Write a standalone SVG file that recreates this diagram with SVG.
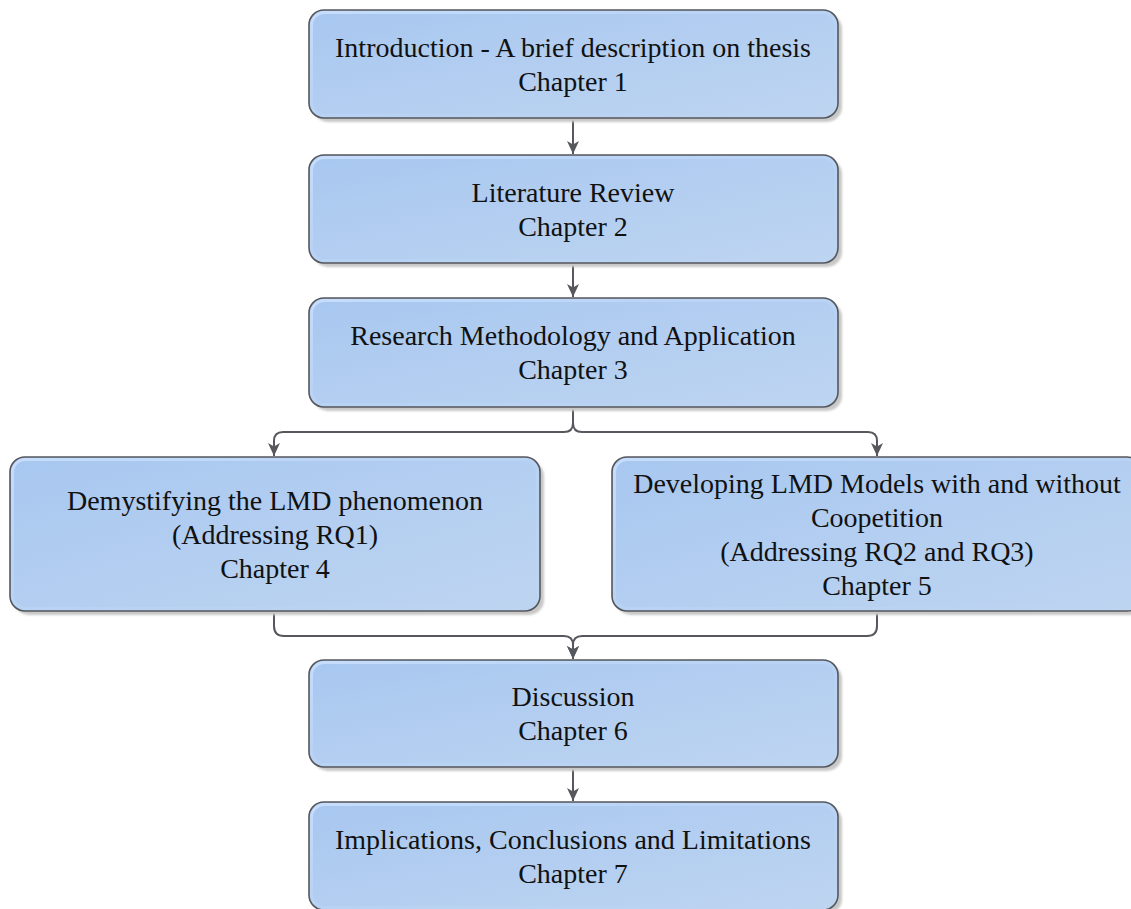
<svg xmlns="http://www.w3.org/2000/svg" width="1131" height="909" viewBox="0 0 1131 909">
  <style>
    .shadow { fill: #c8c8c8; filter: url(#soft); }
    .box { fill: url(#boxFill); stroke: #55575c; stroke-width: 1.6; }
    .hl { fill: none; stroke: url(#hlStroke); stroke-width: 3; }
    .lbl { font-family: "Liberation Serif", "Times New Roman", serif; font-size: 28px; fill: #111; text-anchor: middle; }
    .conn { fill: none; stroke: #56585e; stroke-width: 2; }
  </style>
  <defs>
    <linearGradient id="boxFill" x1="0" y1="0" x2="1" y2="1">
      <stop offset="0" stop-color="#a8c7f0"/>
      <stop offset="1" stop-color="#bed5f1"/>
    </linearGradient>
    <linearGradient id="hlStroke" x1="0" y1="0" x2="1" y2="1">
      <stop offset="0" stop-color="#c6ddfc"/>
      <stop offset="0.5" stop-color="#c6ddfc" stop-opacity="0.3"/>
      <stop offset="1" stop-color="#c6ddfc" stop-opacity="0"/>
    </linearGradient>
    <filter id="soft" x="-5%" y="-5%" width="110%" height="110%">
      <feGaussianBlur stdDeviation="1.2"/>
    </filter>
    <marker id="arrow" markerUnits="userSpaceOnUse" markerWidth="14" markerHeight="14" viewBox="0 0 14 14" refX="13" refY="7" orient="auto">
      <path d="M0,1 L13,7 L0,13 L3.5,7 Z" fill="#56585e"/>
    </marker>
  </defs>

  <!-- connectors -->
  <g id="connectors">
    <path class="conn" d="M573,118 V154" marker-end="url(#arrow)"/>
    <path class="conn" d="M573,263 V297" marker-end="url(#arrow)"/>
    <path class="conn" d="M573,407 V423 Q573,432 564,432 H283 Q274,432 274,441 V456" marker-end="url(#arrow)"/>
    <path class="conn" d="M573,407 V423 Q573,432 582,432 H868 Q877,432 877,441 V456" marker-end="url(#arrow)"/>
    <path class="conn" d="M274,611 V626 Q274,636 284,636 H564 Q573,636 573,645 V659" marker-end="url(#arrow)"/>
    <path class="conn" d="M877,611 V626 Q877,636 867,636 H582 Q573,636 573,645 V659" marker-end="url(#arrow)"/>
    <path class="conn" d="M573,767 V801" marker-end="url(#arrow)"/>
  </g>

  <!-- chapter 1 -->
  <g id="ch1">
    <rect class="shadow" x="313" y="14" width="529" height="108" rx="15"/>
    <rect class="box" x="309" y="10" width="529" height="108" rx="15"/>
    <rect class="hl" x="311.5" y="12.5" width="524" height="103" rx="13"/>
    <text class="lbl" x="573" y="56.5">Introduction - A brief description on thesis</text>
    <text class="lbl" x="573" y="90.5">Chapter 1</text>
  </g>

  <!-- chapter 2 -->
  <g id="ch2">
    <rect class="shadow" x="313" y="159" width="529" height="108" rx="15"/>
    <rect class="box" x="309" y="155" width="529" height="108" rx="15"/>
    <rect class="hl" x="311.5" y="157.5" width="524" height="103" rx="13"/>
    <text class="lbl" x="573" y="201.5">Literature Review</text>
    <text class="lbl" x="573" y="235.5">Chapter 2</text>
  </g>

  <!-- chapter 3 -->
  <g id="ch3">
    <rect class="shadow" x="313" y="302" width="529" height="109" rx="15"/>
    <rect class="box" x="309" y="298" width="529" height="109" rx="15"/>
    <rect class="hl" x="311.5" y="300.5" width="524" height="104" rx="13"/>
    <text class="lbl" x="573" y="345">Research Methodology and Application</text>
    <text class="lbl" x="573" y="379">Chapter 3</text>
  </g>

  <!-- chapter 4 -->
  <g id="ch4">
    <rect class="shadow" x="14" y="461" width="530" height="154" rx="15"/>
    <rect class="box" x="10" y="457" width="530" height="154" rx="15"/>
    <rect class="hl" x="12.5" y="459.5" width="525" height="149" rx="13"/>
    <text class="lbl" x="275" y="509.5">Demystifying the LMD phenomenon</text>
    <text class="lbl" x="275" y="543.5">(Addressing RQ1)</text>
    <text class="lbl" x="275" y="577.5">Chapter 4</text>
  </g>

  <!-- chapter 5 -->
  <g id="ch5">
    <rect class="shadow" x="616" y="461" width="530" height="154" rx="15"/>
    <rect class="box" x="612" y="457" width="530" height="154" rx="15"/>
    <rect class="hl" x="614.5" y="459.5" width="525" height="149" rx="13"/>
    <text class="lbl" x="877" y="492.5">Developing LMD Models with and without</text>
    <text class="lbl" x="877" y="526.5">Coopetition</text>
    <text class="lbl" x="877" y="560.5">(Addressing RQ2 and RQ3)</text>
    <text class="lbl" x="877" y="594.5">Chapter 5</text>
  </g>

  <!-- chapter 6 -->
  <g id="ch6">
    <rect class="shadow" x="313" y="664" width="529" height="107" rx="15"/>
    <rect class="box" x="309" y="660" width="529" height="107" rx="15"/>
    <rect class="hl" x="311.5" y="662.5" width="524" height="102" rx="13"/>
    <text class="lbl" x="573" y="706">Discussion</text>
    <text class="lbl" x="573" y="740">Chapter 6</text>
  </g>

  <!-- chapter 7 -->
  <g id="ch7">
    <rect class="shadow" x="313" y="806" width="529" height="108" rx="15"/>
    <rect class="box" x="309" y="802" width="529" height="108" rx="15"/>
    <rect class="hl" x="311.5" y="804.5" width="524" height="103" rx="13"/>
    <text class="lbl" x="573" y="848.5">Implications, Conclusions and Limitations</text>
    <text class="lbl" x="573" y="882.5">Chapter 7</text>
  </g>
</svg>
